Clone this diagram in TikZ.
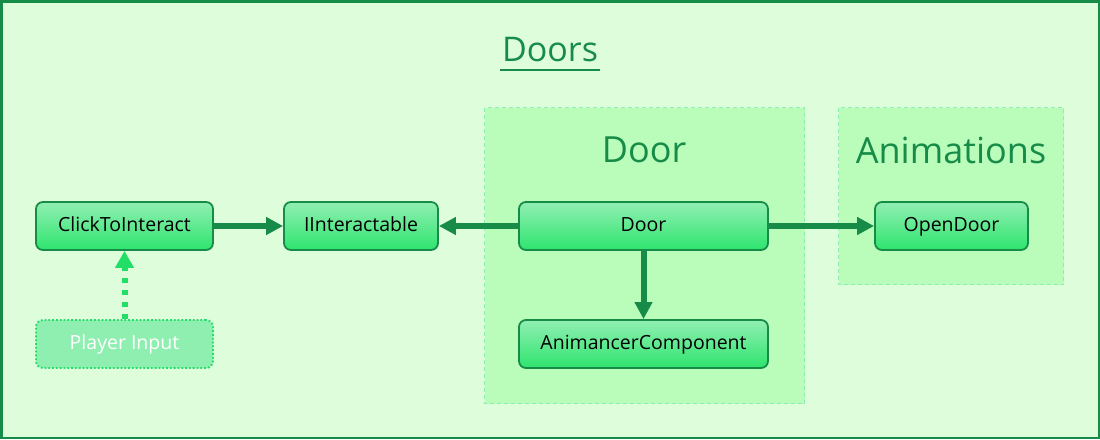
\documentclass[tikz,border=0pt]{standalone}
\usepackage{fontspec}
\setmainfont{Open Sans}
\usetikzlibrary{arrows.meta}
\definecolor{bgc}{HTML}{DDFDDB}
\definecolor{grpfill}{HTML}{BAFDBA}
\definecolor{grpline}{HTML}{8DEEB4}
\definecolor{dkgreen}{HTML}{178C48}
\definecolor{ntop}{HTML}{91EFB2}
\definecolor{nbot}{HTML}{2EE46E}
\definecolor{pifill}{HTML}{8EEFB0}
\definecolor{piline}{HTML}{22DD66}
\tikzset{
  classbox/.style={draw=dkgreen, line width=1.8pt, rounded corners=7pt, top color=ntop, bottom color=nbot,
     minimum height=48pt, inner sep=0pt, text height=14pt, text depth=4pt,
     font=\fontsize{19.5}{22}\selectfont, text=black},
  inputbox/.style={draw=piline, line width=1.8pt, dotted, rounded corners=7pt, fill=pifill,
     minimum height=48pt, inner sep=0pt, text height=14pt, text depth=4pt,
     font=\fontsize{19.5}{22}\selectfont, text=white},
  groupbox/.style={draw=grpline, line width=1.2pt, dash pattern=on 4pt off 3pt, fill=grpfill},
  grouptitle/.style={font=\fontsize{36}{42}\selectfont, text=dkgreen},
  link/.style={draw=dkgreen, line width=6pt, -{Triangle[length=17pt,width=17pt]}},
  inputlink/.style={draw=piline, line width=6pt, dash pattern=on 5pt off 7pt, -{Triangle[length=17pt,width=18pt]}},
}
\begin{document}
\begin{tikzpicture}[x=1pt,y=-1pt]
\useasboundingbox (0,0) rectangle (1100,439);
\fill[bgc] (0,0) rectangle (1100,439);
\draw[dkgreen, line width=2.5pt] (1.25,1.25) rectangle (1098.75,437.75);
% title
\node[grouptitle, font=\fontsize{34}{40}\selectfont] (title) at (550,50) {Doors};
\draw[dkgreen, line width=2.5pt] (500,70) -- (600,70);
% groups
\draw[groupbox] (484.5,107.5) rectangle (804.5,403.5);
\node[grouptitle] (doortitle) at (644,150) {Door};
\draw[groupbox] (838.5,107.5) rectangle (1063.5,284.5);
\node[grouptitle] (animtitle) at (951,150) {Animations};
% nodes
\node[classbox, minimum width=177pt] (click) at (124.5,226) {ClickToInteract};
\node[classbox, minimum width=154pt] (iint) at (361,226) {IInteractable};
\node[classbox, minimum width=249pt] (door) at (643.5,226) {Door};
\node[classbox, minimum width=249pt] (anim) at (643.5,344) {AnimancerComponent};
\node[classbox, minimum width=153pt] (open) at (951.5,226) {OpenDoor};
\node[inputbox, minimum width=177pt] (input) at (124.5,344) {Player Input};
% links
\draw[link] (click) -- (iint);
\draw[link] (door) -- (iint);
\draw[link] (door) -- (open);
\draw[link] (door) -- (anim);
\draw[inputlink] (input) -- (click);
\end{tikzpicture}
\end{document}
